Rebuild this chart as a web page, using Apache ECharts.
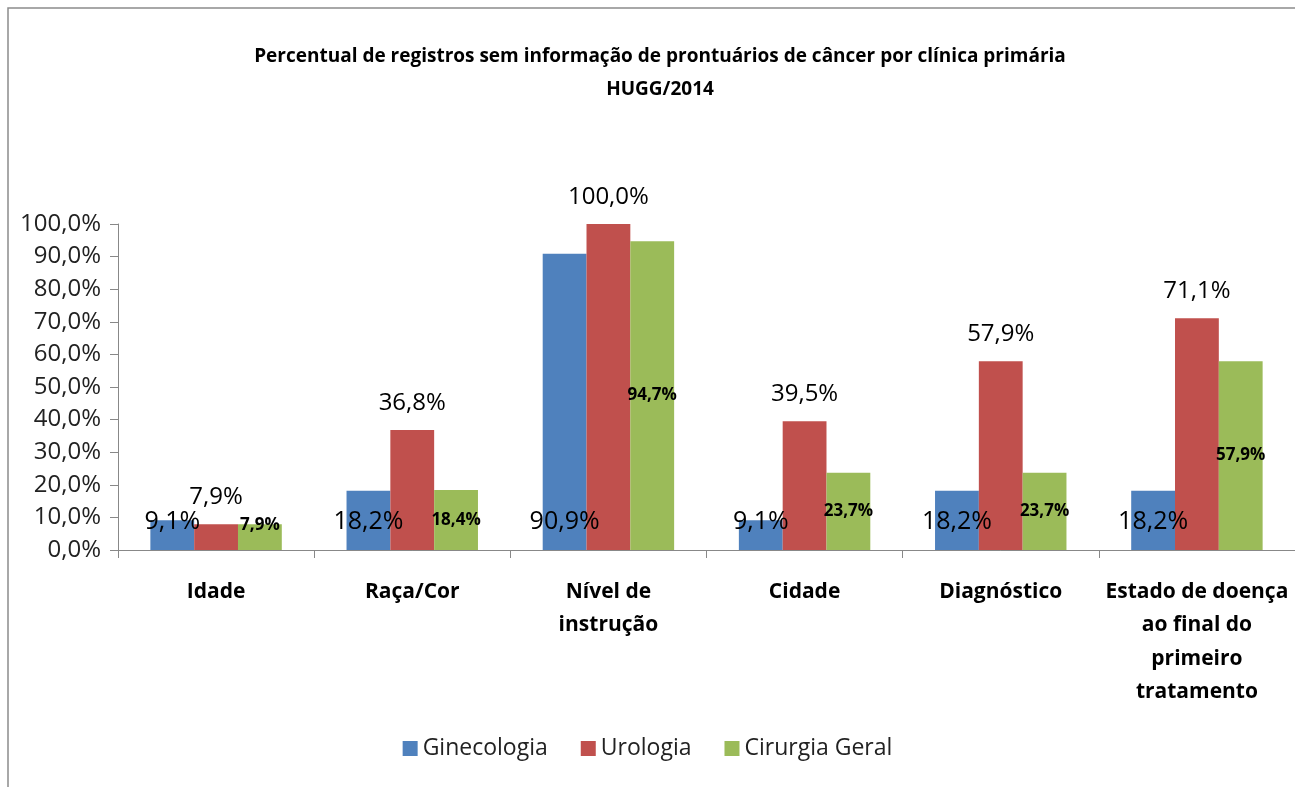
<!DOCTYPE html>
<html>
<head>
<meta charset="utf-8">
<script src="https://cdn.jsdelivr.net/npm/echarts@6/dist/echarts.min.js"></script>
<style>
    html, body { margin: 0; padding: 0; background: #fff; }
    #chart { width: 1295px; height: 787px; }
</style>
</head>
<body>
<div id="chart"></div>
<script>
const categories = ['Idade', 'Raça/Cor', 'Nível de\ninstrução', 'Cidade', 'Diagnóstico', 'Estado de doença\nao final do\nprimeiro\ntratamento']
const ginecologia = [9.1, 18.2, 90.9, 9.1, 18.2, 18.2]
const urologia = [7.9, 36.8, 100.0, 39.5, 57.9, 71.1]
const cirurgiaGeral = [7.9, 18.4, 94.7, 23.7, 23.7, 57.9]
const yTicks = [0, 10, 20, 30, 40, 50, 60, 70, 80, 90, 100]

const font = 'Open Sans'
const fmt = v => v.toFixed(1).replace('.', ',') + '%'

const chart = echarts.init(document.getElementById('chart'))

chart.setOption({
    backgroundColor: '#fff',
    animation: false,
    textStyle: { fontFamily: font },
    title: {
        text: 'Percentual de registros sem informação de prontuários de câncer por clínica primária\nHUGG/2014',
        left: 655,
        textAlign: 'center',
        top: 35,
        textStyle: { fontSize: 19, fontWeight: 'bold', color: '#000', lineHeight: 33, fontFamily: font }
    },
    legend: {
        bottom: 22,
        left: 'center',
        itemWidth: 15,
        itemHeight: 15,
        itemGap: 33,
        icon: 'rect',
        textStyle: { fontSize: 23, color: '#222', fontFamily: font },
        data: ['Ginecologia', 'Urologia', 'Cirurgia Geral']
    },
    graphic: [{
        type: 'rect',
        shape: { x: 8, y: 8, width: 1300, height: 800 },
        style: { fill: 'none', stroke: '#8c8c8c', lineWidth: 1.5 },
        silent: true
    }],
    grid: { left: 118, right: 0, top: 224, bottom: 237 },
    xAxis: {
        type: 'category',
        data: categories,
        axisLine: { lineStyle: { color: '#888' } },
        axisTick: { show: true, length: 8, lineStyle: { color: '#888' } },
        axisLabel: {
            interval: 0,
            fontSize: 21,
            fontWeight: 'bold',
            color: '#000',
            lineHeight: 33.5,
            margin: 25,
            fontFamily: font
        }
    },
    yAxis: {
        type: 'value',
        min: 0,
        max: 100,
        interval: 10,
        splitLine: { show: false },
        axisLine: { show: true, lineStyle: { color: '#888' } },
        axisTick: { show: true, length: 8, lineStyle: { color: '#888' } },
        axisLabel: {
            fontSize: 24,
            color: '#222',
            margin: 17,
            fontFamily: font,
            formatter: v => yTicks.includes(v) ? fmt(v) : ''
        }
    },
    series: [
        {
            name: 'Ginecologia',
            type: 'bar',
            data: ginecologia,
            barGap: '0%',
            barCategoryGap: '33%',
            itemStyle: { color: '#4F81BD' },
            label: {
                show: true,
                position: 'insideBottom',
                distance: 16,
                fontSize: 25,
                color: '#000',
                fontFamily: font,
                formatter: p => fmt(p.value)
            }
        },
        {
            name: 'Urologia',
            type: 'bar',
            data: urologia,
            itemStyle: { color: '#C0504D' },
            label: {
                show: true,
                position: 'top',
                distance: 15,
                fontSize: 24,
                color: '#000',
                fontFamily: font,
                formatter: p => fmt(p.value)
            }
        },
        {
            name: 'Cirurgia Geral',
            type: 'bar',
            data: cirurgiaGeral,
            itemStyle: { color: '#9BBB59' },
            label: {
                show: true,
                position: 'inside',
                fontSize: 17,
                fontWeight: 'bold',
                color: '#000',
                fontFamily: font,
                formatter: p => fmt(p.value)
            },
            // Excel lifts the label of a very short bar a little
            labelLayout: p => (p.rect.height < 30 ? { dy: -12 } : {})
        }
    ]
})
</script>
</body>
</html>
